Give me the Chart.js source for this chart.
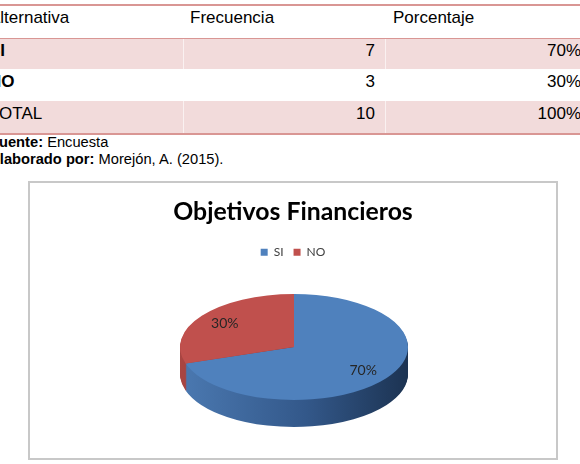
<!DOCTYPE html>
<html>
<head>
<meta charset="utf-8">
<script src="https://cdn.jsdelivr.net/npm/chart.js@4/dist/chart.umd.min.js"></script>
<style>
html,body{margin:0;padding:0;background:#fff;}
body{width:580px;height:464px;overflow:hidden;position:relative;font-family:"Liberation Sans",Arial,sans-serif;color:#000;}
.row{position:absolute;left:-17px;width:605px;}
.pink{background:#f2dbdb;}
.hline{position:absolute;left:-17px;width:605px;background:#d99694;}
.cell{position:absolute;font-size:17px;line-height:24px;white-space:nowrap;}
.sep{position:absolute;width:1px;background:rgba(255,255,255,0.6);}
.note{position:absolute;left:-10px;font-size:14.7px;line-height:17px;white-space:nowrap;}
#frame{position:absolute;left:28px;top:181px;width:526px;height:275px;border:2px solid #c8c8c8;}
#c{position:absolute;left:0;top:0;}
</style>
</head>
<body>
<div id="table"></div>
<div class="note" style="top:134px"><b>Fuente:</b> Encuesta</div>
<div class="note" style="top:150.5px"><b>Elaborado por:</b> Morejón, A. (2015).</div>
<div id="frame"><canvas id="c" width="526" height="275"></canvas></div>
<script>
// ---- data ----
const headers = ['Alternativa', 'Frecuencia', 'Porcentaje'];
const categories = ['SI', 'NO'];
const frecuencias = [7, 3];
const porcentajes = ['70%', '30%'];
const totalLabel = 'TOTAL';
const totalFrecuencia = 10;
const totalPorcentaje = '100%';
const chartTitle = 'Objetivos Financieros';
const sliceColors = ['#4f81bd', '#c0504d'];

// ---- table ----
(function(){
  const t = document.getElementById('table');
  let html = '';
  const rowTops = [5, 38, 69, 101];
  const rowBottoms = [38, 69, 101, 133];
  const rows = [
    {cells: headers, bold: false, pink: false, header: true},
    {cells: [categories[0], String(frecuencias[0]), porcentajes[0]], bold: true, pink: true},
    {cells: [categories[1], String(frecuencias[1]), porcentajes[1]], bold: true, pink: false},
    {cells: [totalLabel, String(totalFrecuencia), totalPorcentaje], bold: false, pink: true}
  ];
  rows.forEach((r, i) => {
    const top = rowTops[i], h = rowBottoms[i] - rowTops[i];
    html += `<div class="row${r.pink ? ' pink' : ''}" style="top:${top}px;height:${h}px"></div>`;
    if (r.pink) {
      html += `<div class="sep" style="left:183px;top:${top}px;height:${h}px"></div>`;
      html += `<div class="sep" style="left:385px;top:${top}px;height:${h}px"></div>`;
    }
    const ty = r.header ? 6.3 : top + 0.6;
    const w0 = r.bold ? 'bold' : 'normal';
    html += `<div class="cell" style="left:-11px;top:${ty}px;font-weight:${w0}">${r.cells[0]}</div>`;
    if (r.header) {
      html += `<div class="cell" style="left:190px;top:${ty}px">${r.cells[1]}</div>`;
      html += `<div class="cell" style="left:393px;top:${ty}px">${r.cells[2]}</div>`;
    } else {
      html += `<div class="cell" style="right:${580-375}px;top:${ty}px;text-align:right">${r.cells[1]}</div>`;
      html += `<div class="cell" style="right:${580-581}px;top:${ty}px;text-align:right">${r.cells[2]}</div>`;
    }
  });
  html += `<div class="hline" style="top:4px;height:1.5px"></div>`;
  html += `<div class="hline" style="top:37.5px;height:1.2px"></div>`;
  html += `<div class="hline" style="top:132.5px;height:2px"></div>`;
  t.innerHTML = html;
})();

// ---- 3D pie plugin ----
const E = {cx: 264, cy: 164, rx: 114, ry: 53, depth: 27};
const sideStops = [
  ['#4b79b1', '#33588a', '#1c3352'],
  ['#a94542', '#7e302e', '#5a2020']
];
const pie3d = {
  id: 'pie3d',
  beforeDatasetsDraw(chart) {
    const ctx = chart.ctx;
    const arcs = chart.getDatasetMeta(0).data;
    if (!arcs.length) return false;
    const ox = arcs[0].x, oy = arcs[0].y, r = arcs[0].outerRadius;
    const sx = E.rx / r, sy = E.ry / r;
    const drawArc = (arc, fill) => {
      const p = Object.create(arc);
      p.options = Object.assign({}, arc.options, {backgroundColor: fill, borderWidth: 0});
      arc.draw.call(p, ctx);
    };
    for (let d = E.depth; d >= 1; d--) {
      ctx.save();
      ctx.translate(E.cx, E.cy + d);
      ctx.scale(sx, sy);
      ctx.translate(-ox, -oy);
      arcs.forEach((arc, i) => {
        const g = ctx.createLinearGradient(ox - r, 0, ox + r, 0);
        const s = sideStops[i];
        g.addColorStop(0, s[0]); g.addColorStop(0.55, s[1]); g.addColorStop(1, s[2]);
        drawArc(arc, g);
      });
      ctx.restore();
    }
    ctx.save();
    ctx.translate(E.cx, E.cy);
    ctx.scale(sx, sy);
    ctx.translate(-ox, -oy);
    arcs.forEach((arc) => drawArc(arc, arc.options.backgroundColor));
    ctx.restore();
    // labels
    const total = frecuencias.reduce((a, b) => a + b, 0);
    ctx.save();
    ctx.font = '14px Lato';
    ctx.fillStyle = '#262626';
    ctx.textAlign = 'center';
    ctx.textBaseline = 'middle';
    arcs.forEach((arc, i) => {
      const mid = (arc.startAngle + arc.endAngle) / 2;
      const f = 0.75;
      const px = E.cx + Math.cos(mid) * E.rx * f;
      const py = E.cy + Math.sin(mid) * E.ry * f;
      ctx.fillText(Math.round(frecuencias[i] / total * 100) + '%', px, py);
    });
    ctx.restore();
    return false;
  }
};

new Chart(document.getElementById('c'), {
  type: 'pie',
  data: {
    labels: categories,
    datasets: [{data: frecuencias, backgroundColor: sliceColors, borderWidth: 0}]
  },
  options: {
    responsive: false,
    animation: false,
    devicePixelRatio: 1,
    plugins: {
      title: {
        display: true, text: chartTitle, color: '#000',
        font: {family: 'Lato', size: 24.8, weight: 'bold'},
        padding: {top: 14.5, bottom: 9}
      },
      legend: {
        position: 'top',
        labels: {boxWidth: 7, boxHeight: 7, color: '#404040', padding: 10,
          font: {family: 'Lato', size: 12}}
      },
      tooltip: {enabled: false}
    }
  },
  plugins: [pie3d]
});
</script>
</body>
</html>
